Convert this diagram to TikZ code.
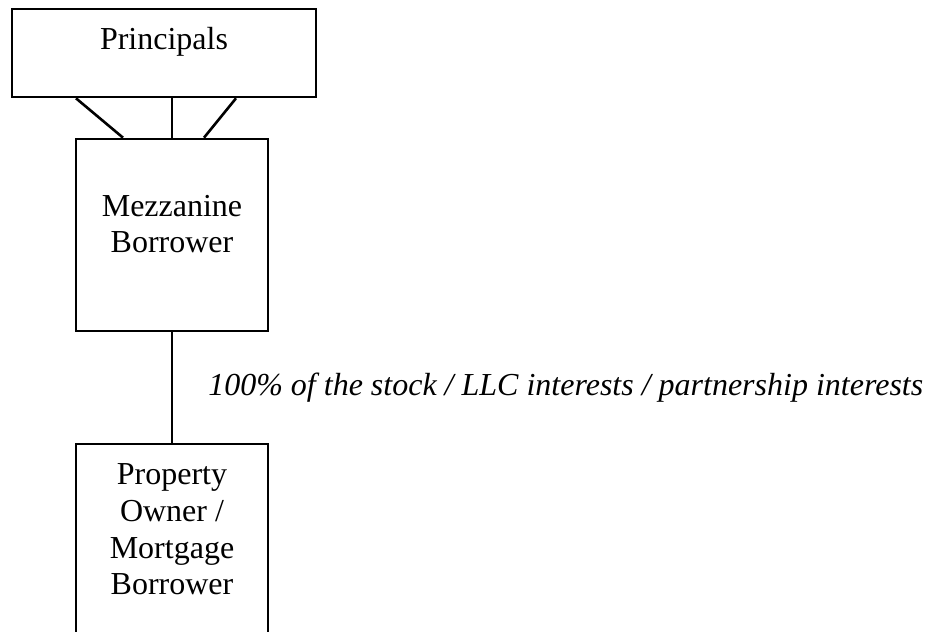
\documentclass[tikz,border=0pt]{standalone}
\usepackage{fontspec}
\setmainfont{Liberation Serif}
\usetikzlibrary{positioning}
\begin{document}
\begin{tikzpicture}[x=0.5pt,y=0.5pt,
	entity/.style={draw,line width=1.3pt,inner sep=0pt},
	boxtext/.style={align=center,inner sep=0pt,anchor=base,font=\fontsize{16}{18.35}\selectfont},
	link/.style={line width=1.3pt}]
	\useasboundingbox (0,0) rectangle (941,631);
	
	\node[entity,minimum width=152pt,minimum height=44pt] (P) at(164,578) {};
	\node[entity,minimum width=96pt,minimum height=96pt] (M) at(172,396) {};
	\node[entity,minimum width=96pt,minimum height=115pt] (O) at(172,72) {};
	
	\node[boxtext] (Ptext) at(164,581) {Principals};
	\node[boxtext] (Mtext) at(172,378) {Mezzanine\\Borrower};
	\node[boxtext] (Otext) at(172,36) {Property\\Owner /\\Mortgage\\Borrower};
	
	\draw[link] ([xshift=-44pt]P.south) -- ([xshift=-24.5pt]M.north);
	\draw[link] ([xshift=4pt]P.south) -- (M.north);
	\draw[link] ([xshift=36pt]P.south) -- ([xshift=16pt]M.north);
	
	\draw[link] (M)to node[right=17.5pt,inner sep=0pt,font=\fontsize{16}{18.35}\selectfont\itshape]{100\% of the stock / LLC interests / partnership interests}(O);
\end{tikzpicture}
\end{document}
